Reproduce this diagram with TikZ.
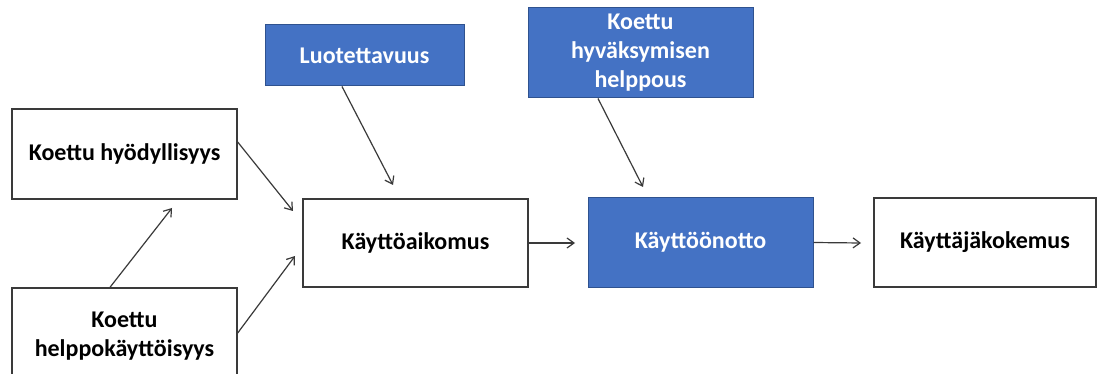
\documentclass[tikz,border=0pt]{standalone}
\usepackage{fontspec}
\setmainfont{Carlito}
\usetikzlibrary{arrows.meta}
\definecolor{boxblue}{HTML}{4472C4}
\definecolor{blueedge}{HTML}{2F528F}
\definecolor{edgegray}{HTML}{3A3A3A}
\tikzset{
  whitebox/.style={draw=edgegray, line width=1.4pt, fill=white, rectangle, align=center,
    font=\fontsize{24}{29}\selectfont\bfseries, text=black, inner sep=0pt},
  bluebox/.style={draw=blueedge, line width=1pt, fill=boxblue, rectangle, align=center,
    font=\fontsize{24}{29}\selectfont\bfseries, text=white, inner sep=0pt},
  link/.style={draw=edgegray, line width=1.2pt, -{Straight Barb[length=7pt,width=10pt]}}
}
\begin{document}
\begin{tikzpicture}[x=1pt,y=-1pt]
\useasboundingbox (0,0) rectangle (1098,374);
\clip (0,0) rectangle (1098,374);
\fill[white] (0,0) rectangle (1098,374);
\node[whitebox, minimum width=225pt, minimum height=90pt] (hyod) at (124.5,154) {Koettu hyödyllisyys};
\node[whitebox, minimum width=225pt, minimum height=96pt] (helppo) at (124.5,336) {Koettu\\helppokäyttöisyys};
\node[bluebox, minimum width=199pt, minimum height=61pt] (luot) at (364.5,55.5) {Luotettavuus};
\node[bluebox, minimum width=225pt, minimum height=90pt] (helppous) at (640.5,53) {Koettu\\hyväksymisen\\helppous};
\node[whitebox, minimum width=225pt, minimum height=88pt] (aikomus) at (415.5,243) {Käyttöaikomus};
\node[bluebox, minimum width=225pt, minimum height=89pt] (kaytto) at (700.5,242.5) {Käyttöönotto};
\node[whitebox, minimum width=222pt, minimum height=89pt] (kokemus) at (985,242.5) {Käyttäjäkokemus};
\coordinate (e1) at (293,211);
\coordinate (e2) at (172,208);
\coordinate (e3) at (295,256);
\coordinate (e4) at (393,185);
\coordinate (e5) at (643,187);
\coordinate (e6) at (575,243);
\coordinate (e7) at (861,243);
\draw[link] ([yshift=12pt]hyod.east) -- (e1);
\draw[link] ([xshift=-14.5pt]helppo.north) -- (e2);
\draw[link] ([yshift=3pt]helppo.east) -- (e3);
\draw[link] ([xshift=-22.5pt]luot.south) -- (e4);
\draw[link] ([xshift=-42.5pt]helppous.south) -- (e5);
\draw[link] (aikomus.east) -- (e6);
\draw[link] (kaytto.east) -- (e7);
\end{tikzpicture}
\end{document}
